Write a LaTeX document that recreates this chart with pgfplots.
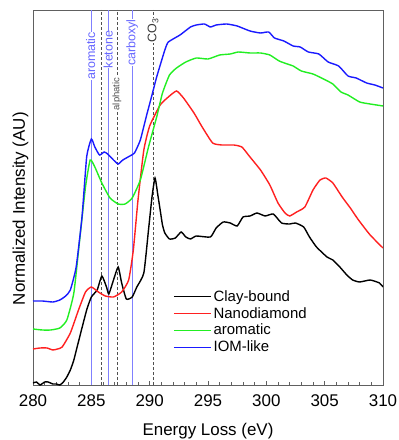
\documentclass[border=0pt]{standalone}
\usepackage{pgfplots}
\pgfplotsset{compat=1.18}
\usepackage{fontspec}
\setmainfont{Liberation Sans}
\definecolor{myblue}{HTML}{1A1AFF}
\definecolor{myred}{HTML}{FF2020}
\definecolor{mygreen}{HTML}{22EE22}
\definecolor{vblue}{HTML}{8080FF}
\definecolor{vgray}{HTML}{505050}
\definecolor{axgray}{HTML}{606060}
\begin{document}
\begin{tikzpicture}
\path[use as bounding box] (-33bp,-55bp) rectangle (366bp,385bp);
\begin{axis}[
  scale only axis,
  width=350bp, height=375bp,
  xmin=280, xmax=310, ymin=0, ymax=375,
  xtick={280,285,...,310},
  minor x tick num=4,
  ytick=\empty,
  xtick pos=bottom,
  tick align=inside,
  major tick length=4bp, minor tick length=3bp,
  axis line style={axgray, line width=0.9bp},
  every tick/.style={axgray, line width=0.8bp},
  /pgf/number format/assume math mode=true,
  /pgf/number format/set thousands separator={},
  xticklabel style={font=\fontsize{17}{20}\selectfont, yshift=-6bp},
  xlabel={Energy Loss (eV)},
  xlabel style={font=\fontsize{17}{20}\selectfont, at={(rel axis cs:0.5,0)}, anchor=base, yshift=-50bp},
  ylabel={Normalized Intensity (AU)},
  ylabel style={font=\fontsize{17}{20}\selectfont, at={(axis description cs:-0.023,0.47)}, anchor=base, rotate=0},
  legend style={at={(rel axis cs:0.397,0.261)}, anchor=north west,
    font=\fontsize{15}{19}\selectfont, row sep=0.6bp, inner sep=1bp},
  every axis legend/.append style={draw=white, fill=none},
  legend image post style={xscale=2.18},
  legend cell align=left,
  clip=true,
]
% vertical reference lines
\addplot[color=vblue, line width=0.9bp, forget plot] coordinates {(285,0) (285,375)};
\addplot[color=vblue, line width=0.9bp, forget plot] coordinates {(286.5,0) (286.5,375)};
\addplot[color=vblue, line width=0.9bp, forget plot] coordinates {(288.55,0) (288.55,375)};
\addplot[color=vgray, line width=0.8bp, dash pattern=on 3bp off 2bp, forget plot] coordinates {(285.9,0) (285.9,375)};
\addplot[color=vgray, line width=0.8bp, dash pattern=on 3bp off 2bp, forget plot] coordinates {(287.25,0) (287.25,375)};
\addplot[color=vgray, line width=0.8bp, dash pattern=on 3bp off 2bp, forget plot] coordinates {(290.35,0) (290.35,375)};

% Clay-bound
\addplot[color=black, line width=1.4bp, smooth, tension=0.3, forget plot] coordinates {
(280.0,2) (280.3,3) (280.6,0) (281.0,3) (281.3,3) (281.7,1) (282.0,1) (282.3,0) (282.6,3) (282.9,8)
(283.2,15) (283.5,25) (284.0,48) (284.6,75) (285.0,88) (285.5,95) (285.9,109) (286.3,98) (286.5,91)
(286.9,105) (287.3,118) (287.6,102) (288.0,86) (288.5,88) (288.9,98) (289.5,112) (289.9,155) (290.2,188)
(290.46,207) (290.7,190) (290.9,175) (291.1,160) (291.3,152) (291.7,146) (292.2,147) (292.7,153)
(293.1,148) (293.5,146) (294.0,149) (295.2,148) (295.7,157) (296.3,163) (296.9,162) (297.5,159)
(298.0,168) (298.6,169) (299.2,172) (299.9,169) (300.6,171) (301.3,162) (302.0,161) (302.5,162)
(303.2,158) (303.7,148) (304.3,138) (305.2,128) (305.7,125) (306.3,118) (306.9,110) (307.4,105)
(308.0,103) (308.9,105) (309.7,102) (310.0,98)};

% Nanodiamond
\addplot[color=myred, line width=1.4bp, smooth, tension=0.3, forget plot] coordinates {
(280.0,36) (280.6,37) (281.2,37) (281.7,35) (282.1,36) (282.5,38) (283.2,52) (283.9,75) (284.5,93)
(285.0,98) (285.6,93) (286.2,89) (286.9,88) (287.6,93) (288.2,105) (288.6,135) (289.0,185) (289.5,235)
(290.0,259) (290.9,280) (291.6,288) (292.3,294) (292.9,287) (293.8,272) (294.5,258) (295.4,242)
(296.2,240) (297.2,240) (297.9,238) (298.6,228) (299.5,215) (300.3,200) (301.0,182) (301.6,172)
(302.0,169) (302.6,173) (303.3,178) (304.0,195) (304.6,205) (305.1,207) (305.7,202) (306.5,188)
(307.2,177) (307.9,165) (308.9,150) (310.0,137)};

% aromatic
\addplot[color=mygreen, line width=1.4bp, smooth, tension=0.3, forget plot] coordinates {
(280.0,56) (280.8,55) (281.5,55) (282.3,57) (282.9,65) (283.5,92) (284.0,145) (284.5,198) (284.9,225)
(285.3,218) (285.9,202) (286.6,187) (287.3,181) (287.9,181) (288.5,187) (289.2,205) (289.9,238)
(290.6,268) (291.1,292) (291.7,310) (292.3,317) (293.1,323) (294.0,327) (295.0,326) (296.0,330)
(296.9,331) (297.6,333) (298.6,332) (299.5,332) (300.3,330) (301.1,324) (301.8,321) (302.3,319)
(303.0,314) (304.0,311) (304.9,306) (305.7,301) (306.4,293) (307.0,290) (308.0,283) (308.9,281) (310.0,279)};

% IOM-like
\addplot[color=myblue, line width=1.4bp, smooth, tension=0.3, forget plot] coordinates {
(280.0,84) (280.8,84) (281.7,83) (282.3,85) (282.8,89) (283.2,95) (283.7,118) (284.2,168) (284.6,228)
(285.0,246) (285.3,238) (285.7,230) (286.1,233) (286.4,231) (286.9,225) (287.3,221) (287.7,225)
(288.3,229) (288.7,232) (289.2,245) (289.7,268) (290.2,290) (290.6,308) (291.3,335) (291.6,343)
(292.6,350) (293.5,358) (294.0,360) (294.7,361) (295.2,358) (295.7,360) (296.6,361) (297.5,359)
(298.6,354) (299.5,352) (300.2,353) (300.7,347) (301.5,344) (302.3,339) (302.9,338) (303.6,333)
(304.5,331) (305.3,323) (306.2,319) (307.0,309) (307.7,307) (308.6,302) (309.3,300) (310.0,297)};

\addlegendimage{color=black, line width=1.4bp}
\addlegendentry{Clay-bound}
\addlegendimage{color=myred, line width=1.4bp}
\addlegendentry{Nanodiamond}
\addlegendimage{color=mygreen, line width=1.4bp}
\addlegendentry{aromatic}
\addlegendimage{color=myblue, line width=1.4bp}
\addlegendentry{IOM-like}

% labels
\node[rotate=90, fill=white, inner sep=0.3pt, text=vblue!80!blue, font=\fontsize{12.5}{14}\selectfont] at (axis cs:284.95,329) {aromatic};
\node[rotate=90, fill=white, inner sep=0.3pt, text=vblue!80!blue, font=\fontsize{12.5}{14}\selectfont] at (axis cs:286.45,335.5) {ketone};
\node[rotate=90, fill=white, inner sep=0.3pt, text=vgray, font=\fontsize{9.5}{11}\selectfont] at (axis cs:287.2,291) {alphatic};
\node[rotate=90, fill=white, inner sep=0.3pt, text=vblue!80!blue, font=\fontsize{12.5}{14}\selectfont] at (axis cs:288.5,342.5) {carboxyl};
\node[rotate=90, fill=white, inner sep=0.3pt, text=vgray!70!black, font=\fontsize{12.5}{14}\selectfont] at (axis cs:290.3,354.5) {CO\textsubscript{3}};
\end{axis}
\end{tikzpicture}
\end{document}
